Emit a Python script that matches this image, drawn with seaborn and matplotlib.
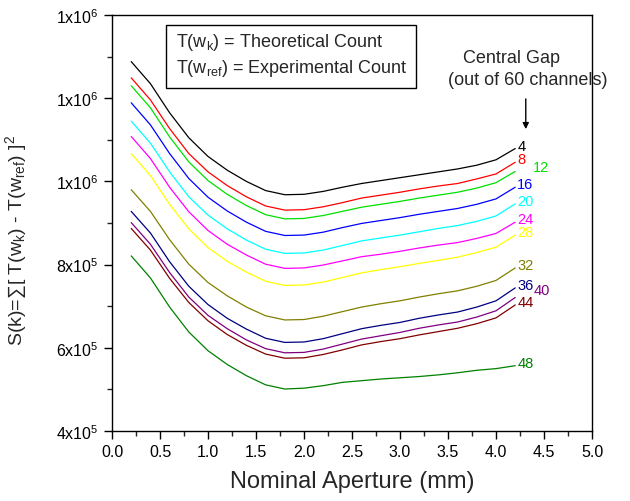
"""
S(k) vs nominal aperture for several central gaps
"""
import numpy as np
import pandas as pd
import matplotlib
matplotlib.use('Agg')
import matplotlib.pyplot as plt
import seaborn as sns
from matplotlib.patches import Rectangle
from matplotlib.ticker import MultipleLocator

# aperture (mm)
aperture = [0.2, 0.4, 0.6, 0.8, 1.0, 1.2, 1.4, 1.6, 1.8, 2.0, 2.2,
            2.4, 2.6, 2.8, 3.0, 3.2, 3.4, 3.6, 3.8, 4.0, 4.2]

# S(k) in thousands, one list per central gap
s4 = [1288, 1235, 1165, 1105, 1060, 1027, 1000, 978, 968, 969, 976,
      986, 995, 1002, 1009, 1016, 1023, 1030, 1039, 1052, 1079]
s8 = [1249, 1196, 1127, 1067, 1023, 990, 963, 941, 931, 932, 939,
      949, 960, 967, 974, 982, 989, 995, 1006, 1018, 1046]
s12 = [1230, 1177, 1107, 1047, 1002, 969, 942, 920, 910, 911, 918,
       928, 938, 945, 952, 960, 967, 974, 984, 997, 1024]
s16 = [1189, 1136, 1067, 1007, 962, 929, 902, 880, 870, 871, 878,
       889, 899, 906, 913, 921, 928, 935, 945, 958, 986]
s20 = [1145, 1092, 1023, 963, 919, 886, 859, 837, 827, 828, 835,
       846, 857, 864, 871, 879, 887, 894, 904, 917, 946]
s24 = [1108, 1055, 986, 927, 882, 849, 823, 801, 791, 792, 799,
       809, 819, 825, 832, 840, 847, 853, 863, 875, 902]
s28 = [1067, 1014, 945, 886, 841, 808, 782, 760, 750, 751, 758,
       769, 780, 788, 795, 803, 810, 818, 829, 842, 871]
s32 = [980, 928, 860, 801, 757, 725, 698, 677, 667, 668, 676,
       687, 698, 706, 713, 722, 730, 737, 748, 762, 792]
s36 = [928, 876, 807, 748, 704, 671, 645, 623, 613, 614, 622,
       634, 646, 654, 661, 671, 679, 686, 698, 713, 744]
s40 = [901, 849, 781, 722, 678, 646, 619, 598, 588, 589, 597,
       609, 621, 629, 637, 647, 655, 662, 674, 689, 721]
s44 = [887, 835, 767, 709, 665, 632, 606, 585, 575, 576, 584,
       595, 607, 615, 622, 631, 639, 647, 658, 672, 703]
s48 = [821, 768, 698, 638, 593, 560, 533, 511, 501, 503, 509,
       517, 521, 525, 528, 531, 535, 540, 546, 550, 557]

gaps = ['4', '8', '12', '16', '20', '24', '28', '32', '36', '40', '44', '48']
series = [s4, s8, s12, s16, s20, s24, s28, s32, s36, s40, s44, s48]
colors = ['#000000', '#FF0000', '#00E000', '#0000FF', '#00FFFF', '#FF00FF',
          '#FFFF00', '#808000', '#000080', '#800080', '#800000', '#008000']

yticks = [4e5, 6e5, 8e5, 1e6, 1.2e6, 1.4e6]
ytick_labels = [r'4x10$^5$', r'6x10$^5$', r'8x10$^5$',
                r'1x10$^6$', r'1x10$^6$', r'1x10$^6$']

rows = []
for g, s in zip(gaps, series):
    for a, v in zip(aperture, s):
        rows.append({'aperture': a, 'S': v * 1000.0, 'gap': g})
df = pd.DataFrame(rows)

sns.set_style('ticks')
plt.rcParams['font.family'] = ['Liberation Sans', 'DejaVu Sans']
plt.rcParams['mathtext.fontset'] = 'custom'
plt.rcParams['mathtext.rm'] = 'Liberation Sans'
plt.rcParams['mathtext.it'] = 'Liberation Sans:italic'

fig = plt.figure(figsize=(6.3, 5.02), dpi=100)
ax = fig.add_axes([0.1778, 0.1394, 0.7619, 0.8287])

sns.lineplot(data=df, x='aperture', y='S', hue='gap', hue_order=gaps,
             palette=colors, linewidth=0.9, legend=False, ax=ax)

ax.set_xlim(0, 5)
ax.set_ylim(4e5, 1.4e6)
ax.xaxis.set_major_locator(MultipleLocator(0.5))
ax.xaxis.set_minor_locator(MultipleLocator(0.25))
ax.set_yticks(yticks, labels=ytick_labels)
ax.yaxis.set_minor_locator(MultipleLocator(1e5))
ax.tick_params(which='major', direction='out', length=6, width=1,
               labelsize=11.5, colors='black')
ax.tick_params(which='minor', direction='out', length=3.5, width=1)
for sp in ax.spines.values():
    sp.set_visible(True)
    sp.set_linewidth(1.0)
    sp.set_color('black')

ax.set_xlabel('Nominal Aperture (mm)', fontsize=17, labelpad=8)
ax.set_ylabel(r'S(k)=$\sum$[ T(w$_\mathrm{k}$) - T(w$_\mathrm{ref}$) ]$^2$',
              fontsize=14)
ax.yaxis.set_label_coords(-0.175, 0.46)

# curve end labels
offsets = {'12': (18, 4), '40': (18, 7)}
for g, s, c in zip(gaps, series, colors):
    dx, dy = offsets.get(g, (2, 3))
    ax.annotate(g, xy=(aperture[-1], s[-1] * 1000.0), xytext=(dx, dy),
                textcoords='offset pixels', color=c, fontsize=10.5,
                ha='left', va='center')

# definition box
ax.add_patch(Rectangle((0.1125, 0.8245), 0.521, 0.151, transform=ax.transAxes,
                       fill=False, edgecolor='black', linewidth=1.0))
ax.text(0.133, 0.9375, r'T(w$_\mathrm{k}$) = Theoretical Count',
        transform=ax.transAxes, fontsize=13, va='center', ha='left')
ax.text(0.133, 0.875, r'T(w$_\mathrm{ref}$) = Experimental Count',
        transform=ax.transAxes, fontsize=13, va='center', ha='left')

ax.text(0.833, 0.899, 'Central Gap', transform=ax.transAxes,
        fontsize=13, ha='center', va='center')
ax.text(0.867, 0.846, '(out of 60 channels)', transform=ax.transAxes,
        fontsize=13, ha='center', va='center')
ax.annotate('', xy=(0.862, 0.719), xytext=(0.862, 0.805),
            xycoords='axes fraction', textcoords='axes fraction',
            arrowprops=dict(arrowstyle='-|>', color='black', lw=1.0,
                            mutation_scale=9))

fig.savefig('out.png', dpi=100)
plt.close(fig)
